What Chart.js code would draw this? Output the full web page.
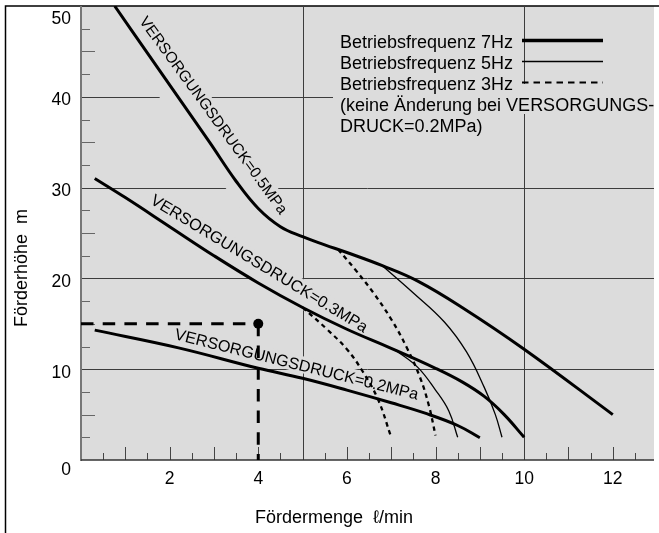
<!DOCTYPE html>
<html>
<head>
<meta charset="utf-8">
<script src="https://cdn.jsdelivr.net/npm/chart.js@4.4.1/dist/chart.umd.min.js"></script>
<style>
html, body { margin: 0; padding: 0; background: #fff; }
canvas { display: block; }
</style>
</head>
<body>
<canvas id="pumpChart" width="659" height="533"></canvas>
<script>
// Kennlinien (Fördermenge l/min -> Förderhöhe m)
const q05 = [0.76, 1.5, 2.2, 2.9, 3.5, 4.0, 4.5, 5.0, 5.5, 6.0, 6.8, 7.6, 8.6, 10.0, 12.0];
const h05 = [50, 44.8, 39.9, 35.0, 30.7, 27.7, 25.7, 24.6, 23.7, 22.85, 21.4, 19.7, 16.8, 12.2, 5.0];
const q05_5Hz = [6.8, 7.5, 8.2, 8.7, 9.1, 9.35, 9.5];
const h05_5Hz = [21.4, 18.4, 15.2, 11.9, 8.0, 5.0, 2.5];
const q05_3Hz = [5.8, 6.2, 6.6, 7.0, 7.35, 7.65, 7.85, 8.0];
const h05_3Hz = [23.2, 20.9, 18.4, 15.5, 12.4, 9.1, 6.0, 2.7];

const q03 = [0.31, 1.0, 2.0, 3.0, 4.0, 5.0, 6.0, 7.0, 8.0, 8.6, 9.1, 9.55, 10.0];
const h03 = [31.0, 28.9, 25.7, 22.5, 19.5, 16.8, 14.4, 12.3, 10.1, 8.6, 7.0, 5.0, 2.5];
const q03_5Hz = [7.1, 7.6, 8.0, 8.3, 8.5];
const h03_5Hz = [12.1, 10.2, 7.7, 5.4, 2.5];
const q03_3Hz = [5.0, 5.55, 6.0, 6.35, 6.7, 7.0];
const h03_3Hz = [16.8, 14.4, 12.2, 9.8, 6.7, 2.5];

const q02 = [0.31, 2.2, 4.0, 5.0, 6.0, 7.0, 7.8, 8.5, 9.0];
const h02 = [14.3, 12.35, 10.1, 9.0, 7.7, 6.3, 5.1, 3.8, 2.45];

// Beispiel-Betriebspunkt
const refQ = 4;
const refH = 15;

const xTicks = [2, 4, 6, 8, 10, 12];
const yTicks = [0, 10, 20, 30, 40, 50];
const xGrid = [5, 10];
const yGrid = [10, 20, 30, 40];

const curveLabels = ['VERSORGUNGSDRUCK=0.5MPa', 'VERSORGUNGSDRUCK=0.3MPa', 'VERSORGUNGSDRUCK=0.2MPa'];
const legendLines = ['Betriebsfrequenz 7Hz', 'Betriebsfrequenz 5Hz', 'Betriebsfrequenz 3Hz',
    '(keine Änderung bei VERSORGUNGS-', 'DRUCK=0.2MPa)'];

const FONT = '"Liberation Sans", Arial, Helvetica, sans-serif';
const PLOT_BG = '#dcdcdc';

function toPoints(q, h) {
    return q.map((x, i) => ({ x: x, y: h[i] }));
}

function curve(q, h, kind) {
    const ds = {
        data: toPoints(q, h),
        showLine: true,
        borderColor: '#000',
        pointRadius: 0,
        tension: 0.4,
        borderCapStyle: 'butt'
    };
    if (kind === 7) { ds.borderWidth = 3; }
    if (kind === 5) { ds.borderWidth = 1.3; }
    if (kind === 3) { ds.borderWidth = 2.3; ds.borderDash = [4.5, 4]; }
    return ds;
}

// below: wie weit der Hintergrund unter der Schrift Richtung Kurve reicht
function rotLabel(ctx, text, cx, cy, deg, size, below, bgOnly) {
    ctx.save();
    ctx.translate(cx, cy);
    ctx.rotate(deg * Math.PI / 180);
    ctx.font = size + 'px ' + FONT;
    const w = ctx.measureText(text).width;
    const cap = size * 0.72;
    if (bgOnly) {
        ctx.fillStyle = PLOT_BG;
        ctx.fillRect(-w / 2 - 1, -cap / 2 - 3, w + 2, cap + 3 + below);
    } else {
        ctx.fillStyle = '#000';
        ctx.textAlign = 'center';
        ctx.textBaseline = 'alphabetic';
        ctx.fillText(text, 0, cap / 2);
    }
    ctx.restore();
}

function drawCurveLabels(chart, bgOnly) {
    const { ctx, scales: { x, y } } = chart;
    rotLabel(ctx, curveLabels[0], x.getPixelForValue(3.0), y.getPixelForValue(38.0), 53.9, 15.5, 28, bgOnly);
    rotLabel(ctx, curveLabels[1], x.getPixelForValue(4.03), y.getPixelForValue(21.7), 31.2, 16.2, 12, bgOnly);
    rotLabel(ctx, curveLabels[2], x.getPixelForValue(4.87), y.getPixelForValue(10.6), 14.0, 16.2, 2, bgOnly);
}

const decor = {
    id: 'decor',
    beforeDraw(chart) {
        const { ctx, chartArea: a } = chart;
        ctx.save();
        ctx.fillStyle = '#fff';
        ctx.fillRect(0, 0, chart.width, chart.height);
        ctx.fillStyle = PLOT_BG;
        ctx.fillRect(a.left, a.top, a.right - a.left, a.bottom - a.top);
        // Rahmen
        ctx.strokeStyle = '#000';
        ctx.lineWidth = 1.5;
        ctx.beginPath();
        ctx.moveTo(5.5, chart.height);
        ctx.lineTo(5.5, a.top);
        ctx.lineTo(chart.width, a.top);
        ctx.stroke();
        ctx.restore();
    },
    beforeDatasetsDraw(chart) {
        const { ctx, chartArea: a, scales: { x, y } } = chart;
        ctx.save();
        // Gitter
        ctx.strokeStyle = '#3c3c3c';
        ctx.lineWidth = 1;
        yGrid.forEach(v => {
            const py = Math.round(y.getPixelForValue(v)) + 0.5;
            ctx.beginPath(); ctx.moveTo(a.left, py); ctx.lineTo(a.right, py); ctx.stroke();
        });
        xGrid.forEach(v => {
            const px = Math.round(x.getPixelForValue(v)) + 0.5;
            ctx.beginPath(); ctx.moveTo(px, a.top); ctx.lineTo(px, a.bottom); ctx.stroke();
        });
        // Skalenstriche
        ctx.strokeStyle = '#666';
        for (let i = 1; i < 20; i++) {
            const v = i * 2.5;
            if (v % 10 === 0) continue;
            const py = Math.round(y.getPixelForValue(v)) + 0.5;
            const len = v % 5 === 0 ? 14 : 9;
            ctx.beginPath(); ctx.moveTo(a.left, py); ctx.lineTo(a.left + len, py); ctx.stroke();
        }
        ctx.strokeStyle = '#444';
        for (let i = 1; i <= 25; i++) {
            const v = i * 0.5;
            if (xGrid.includes(v)) continue;
            const px = Math.round(x.getPixelForValue(v)) + 0.5;
            const len = i % 2 === 0 ? 13 : 7;
            ctx.beginPath(); ctx.moveTo(px, a.bottom); ctx.lineTo(px, a.bottom - len); ctx.stroke();
        }
        // Achsen
        ctx.strokeStyle = '#777';
        ctx.lineWidth = 2;
        ctx.beginPath(); ctx.moveTo(a.left, a.top); ctx.lineTo(a.left, a.bottom + 1); ctx.stroke();
        ctx.strokeStyle = '#333';
        ctx.lineWidth = 1.5;
        ctx.beginPath(); ctx.moveTo(a.left, a.bottom); ctx.lineTo(a.right, a.bottom); ctx.stroke();

        // Hintergrund unter Beschriftungen
        ctx.fillStyle = PLOT_BG;
        ctx.fillRect(333, 84, a.right - 333, 30);
        ctx.fillRect(333, 114, 157, 24);
        drawCurveLabels(chart, true);
        ctx.restore();
    },
    afterDatasetsDraw(chart) {
        const { ctx, chartArea: a, scales: { x, y } } = chart;
        ctx.save();
        drawCurveLabels(chart, false);

        // Legende
        ctx.fillStyle = '#000';
        ctx.font = '18px ' + FONT;
        ctx.textAlign = 'left';
        ctx.textBaseline = 'alphabetic';
        const base = [48, 69, 90, 111, 132];
        legendLines.forEach((t, i) => ctx.fillText(t, 340, base[i]));
        ctx.strokeStyle = '#000';
        ctx.lineWidth = 3.5;
        ctx.beginPath(); ctx.moveTo(522, 40.5); ctx.lineTo(603, 40.5); ctx.stroke();
        ctx.lineWidth = 1.3;
        ctx.beginPath(); ctx.moveTo(522, 61.5); ctx.lineTo(603, 61.5); ctx.stroke();
        ctx.lineWidth = 2;
        ctx.setLineDash([6.5, 5]);
        ctx.beginPath(); ctx.moveTo(522, 82.5); ctx.lineTo(603, 82.5); ctx.stroke();
        ctx.setLineDash([]);

        // Achsenbeschriftung
        ctx.font = '17.5px ' + FONT;
        ctx.textBaseline = 'middle';
        ctx.textAlign = 'right';
        yTicks.forEach(v => {
            let py = y.getPixelForValue(v) + 3.5;
            if (v === 0) py += 6.5;
            if (v === 50) py = Math.max(py, 19);
            ctx.fillText(String(v), a.left - 10, py);
        });
        ctx.textAlign = 'center';
        xTicks.forEach(v => ctx.fillText(String(v), x.getPixelForValue(v), a.bottom + 19));

        ctx.font = '18px ' + FONT;
        ctx.fillText('Fördermenge  ℓ/min', 334, 518);
        ctx.translate(22, 268);
        ctx.rotate(-Math.PI / 2);
        ctx.fillText('Förderhöhe  m', 0, 0);
        ctx.restore();
    }
};

const refLine = {
    showLine: true, borderColor: '#000', borderWidth: 3, pointRadius: 0, borderDash: [12.5, 9.2]
};

new Chart(document.getElementById('pumpChart'), {
    type: 'scatter',
    data: {
        datasets: [
            curve(q05, h05, 7), curve(q05_5Hz, h05_5Hz, 5), curve(q05_3Hz, h05_3Hz, 3),
            curve(q03, h03, 7), curve(q03_5Hz, h03_5Hz, 5), curve(q03_3Hz, h03_3Hz, 3),
            curve(q02, h02, 7),
            Object.assign({ data: [{ x: 0, y: refH }, { x: refQ, y: refH }] }, refLine),
            Object.assign({ data: [{ x: refQ, y: refH }, { x: refQ, y: 0 }] }, refLine),
            { data: [{ x: refQ, y: refH }], pointRadius: 5, pointBackgroundColor: '#000', pointBorderWidth: 0 }
        ]
    },
    options: {
        responsive: false,
        animation: false,
        devicePixelRatio: 1,
        layout: { padding: { left: 81, top: 6, right: 0, bottom: 73 } },
        plugins: { legend: { display: false }, tooltip: { enabled: false } },
        scales: {
            x: { type: 'linear', min: 0, max: 12.93, display: false },
            y: { type: 'linear', min: 0, max: 50, display: false }
        }
    },
    plugins: [decor]
});
</script>
</body>
</html>
